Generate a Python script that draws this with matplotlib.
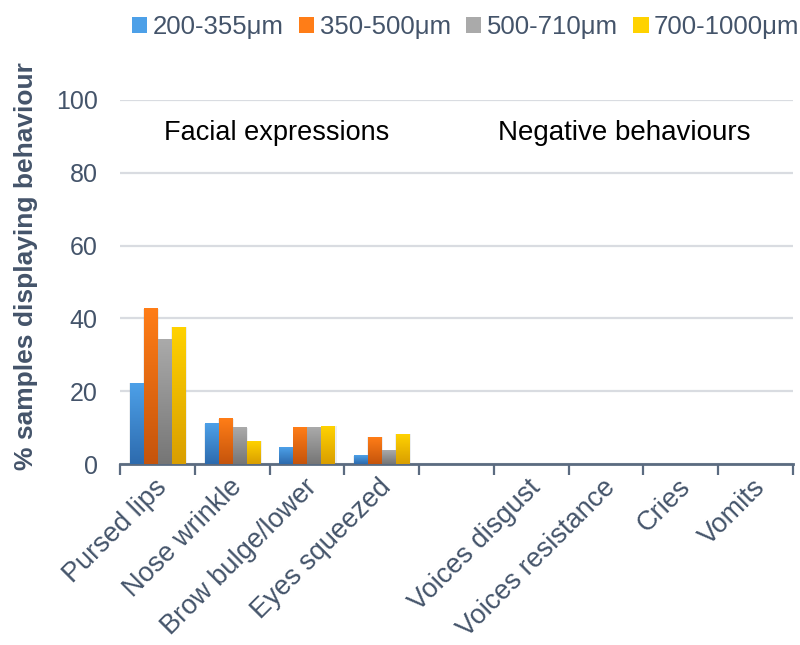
import numpy as np
import matplotlib
matplotlib.use("Agg")
import matplotlib.pyplot as plt
import matplotlib.transforms as mtransforms
from matplotlib.colors import LinearSegmentedColormap
from matplotlib.patches import Patch

plt.rcParams['font.family'] = ['Liberation Sans', 'DejaVu Sans']

# behaviours on the x axis (blank slot separates the two groups)
categorias = ["Pursed lips", "Nose wrinkle", "Brow bulge/lower", "Eyes squeezed", "",
              "Voices disgust", "Voices resistance", "Cries", "Vomits"]
tamanhos = ["200-355μm", "350-500μm", "500-710μm", "700-1000μm"]

# % of samples per particle size
p200 = [22.2, 11.0, 4.4, 2.2, 0, 0, 0, 0, 0]
p350 = [42.6, 12.4, 9.9, 7.4, 0, 0, 0, 0, 0]
p500 = [34.1, 9.9, 9.9, 3.8, 0, 0, 0, 0, 0]
p700 = [37.6, 6.3, 10.4, 8.2, 0, 0, 0, 0, 0]

# gradient colours (top, bottom) for each series
cores = [("#4DA0E8", "#2D6BAE"),
         ("#FF7D17", "#C5540C"),
         ("#AAAAAA", "#767676"),
         ("#FFD200", "#D99E00")]

texto = "#44546A"

fig = plt.figure(figsize=(8, 6.45), dpi=100)
ax = fig.add_axes([0.15, 0.2806, 0.841, 0.5644])

x = np.arange(len(categorias))
passo = 0.187
largura = 0.176
gradiente = np.linspace(0, 1, 100).reshape(-1, 1)

for i, serie in enumerate([p200, p350, p500, p700]):
    cmap = LinearSegmentedColormap.from_list("g%d" % i, [cores[i][1], cores[i][0]])
    for xi, v in zip(x, serie):
        if v <= 0:
            continue
        esq = xi + (i - 1.5) * passo - largura / 2
        # faint shadow around the bar
        ax.bar(esq + largura / 2 + 0.01, v + 0.3, width=largura + 0.04, bottom=-0.3,
               color="#9aa3ad", alpha=0.18, linewidth=0, zorder=2)
        ax.imshow(gradiente, extent=(esq, esq + largura, 0, v), origin="lower",
                  cmap=cmap, aspect="auto", zorder=3, interpolation="bilinear")

ax.set_xlim(-0.5, len(categorias) - 0.5)
ax.set_ylim(0, 100)
ax.set_aspect("auto")

ax.set_yticks([0, 20, 40, 60, 80, 100])
ax.yaxis.grid(True, color="#D9DCE1", linewidth=1.6, zorder=0)
ax.set_axisbelow(True)
ax.tick_params(axis="y", length=0, labelsize=18, labelcolor=texto, pad=16)

# ticks between categories, labels at the centres
ax.set_xticks(np.arange(-0.5, len(categorias), 1.0))
ax.set_xticklabels([])
ax.set_xticks(x, minor=True)
ax.set_xticklabels(categorias, minor=True, rotation=45, ha="right",
                   rotation_mode="anchor", fontsize=19.5, color=texto)
ax.tick_params(axis="x", which="major", length=8, width=1.6, color="#5B6B80", direction="out")
ax.tick_params(axis="x", which="minor", length=0, pad=14)
desloca = mtransforms.ScaledTranslation(6 / 100, 0, fig.dpi_scale_trans)
for lbl in ax.get_xticklabels(minor=True):
    lbl.set_va("center")
    lbl.set_transform(lbl.get_transform() + desloca)

for lado in ["top", "right", "left"]:
    ax.spines[lado].set_visible(False)
ax.spines["bottom"].set_color("#5B6B80")
ax.spines["bottom"].set_linewidth(2)

ax.set_ylabel("% samples displaying behaviour", fontsize=19, fontweight="bold",
              color=texto)
ax.yaxis.set_label_coords(-0.122, 0.545)

ax.text(1.6, 91, "Facial expressions", fontsize=19.5, ha="center", va="center", color="black")
ax.text(6.25, 91, "Negative behaviours", fontsize=20, ha="center", va="center", color="black")

legenda = [Patch(facecolor=c[0], edgecolor="none") for c in cores]
fig.legend(legenda, tamanhos, loc="upper center", bbox_to_anchor=(0.582, 1.012), ncol=4,
           frameon=False, fontsize=18.5, labelcolor=texto, handlelength=0.6,
           handleheight=0.6, handletextpad=0.2, columnspacing=0.6)

fig.savefig("out.png", dpi=100)
